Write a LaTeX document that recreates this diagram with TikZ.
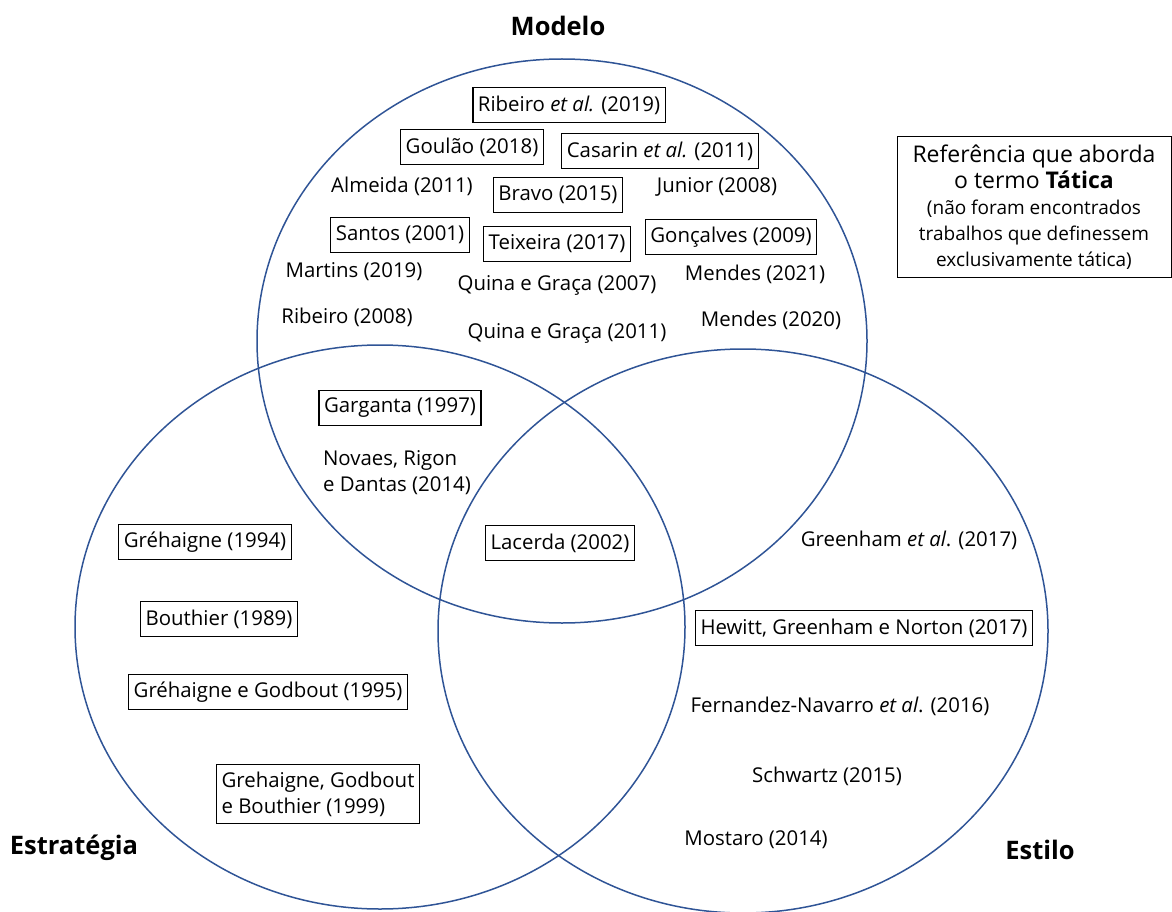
\documentclass[tikz,border=0pt]{standalone}
\usepackage{fontspec}
\setmainfont{Open Sans}
\usetikzlibrary{positioning, calc}
\usepackage{xcolor}
\definecolor{vennblue}{HTML}{2F5496}

\begin{document}
\begin{tikzpicture}[
      x=1pt, y=-1pt,
      every node/.style={font=\fontsize{20.4}{26}\selectfont},
      ref/.style={draw, line width=1.2pt, inner xsep=5pt, inner ysep=7.5pt, minimum height=35pt, align=left},
      plain/.style={inner sep=2pt, align=left},
      settitle/.style={font=\fontsize{25.5}{30}\selectfont\bfseries},
      setline/.style={draw=vennblue, line width=1.5pt},
    ]
    \path[use as bounding box] (0,0) rectangle (1172,912);

    % Sets
    \draw[setline] (562,341) ellipse [x radius=305pt, y radius=282pt];
    \draw[setline] (380,627) ellipse [x radius=305pt, y radius=282pt];
    \draw[setline] (743,631) ellipse [x radius=305pt, y radius=282pt];

    \node[settitle] (modelo) at (558,26) {Modelo};
    \node[settitle] (estrategia) at (74,848) {Estratégia};
    \node[settitle] (estilo) at (1040,850) {Estilo};

    % Modelo
    \node[ref] (ribeiro19) at (569,105) {Ribeiro \textit{et al.} (2019)};
    \node[ref] (goulao) at (472,147) {Goulão (2018)};
    \node[ref] (casarin) at (660,151) {Casarin \textit{et al.} (2011)};
    \node[plain] (almeida) at (402,186) {Almeida (2011)};
    \node[ref] (bravo) at (558,195) {Bravo (2015)};
    \node[plain] (junior) at (717,187) {Junior (2008)};
    \node[ref] (santos) at (400,235) {Santos (2001)};
    \node[ref] (teixeira) at (557,244) {Teixeira (2017)};
    \node[ref] (goncalves) at (731,237) {Gonçalves (2009)};
    \node[plain] (martins) at (354,272) {Martins (2019)};
    \node[plain] (quina07) at (557,285) {Quina e Graça (2007)};
    \node[plain] (mendes21) at (755,274) {Mendes (2021)};
    \node[plain] (ribeiro08) at (347,317) {Ribeiro (2008)};
    \node[plain] (quina11) at (567,333) {Quina e Graça (2011)};
    \node[plain] (mendes20) at (771,320) {Mendes (2020)};

    % Modelo + Estrategia
    \node[ref] (garganta) at (400,408) {Garganta (1997)};
    \node[plain] (novaes) at (397,473) {Novaes, Rigon\\e Dantas (2014)};

    % all three
    \node[ref] (lacerda) at (560,543) {Lacerda (2002)};

    % Estrategia
    \node[ref] (grehaigne94) at (205,542) {Gréhaigne (1994)};
    \node[ref] (bouthier) at (219,619) {Bouthier (1989)};
    \node[ref] (grehaigne95) at (268,692) {Gréhaigne e Godbout (1995)};
    \node[ref] (grehaigne99) at (318,794) {Grehaigne, Godbout\\e Bouthier (1999)};

    % Estilo
    \node[plain] (greenham) at (909,540) {Greenham \textit{et al}. (2017)};
    \node[ref] (hewitt) at (864,628) {Hewitt, Greenham e Norton (2017)};
    \node[plain] (fernandez) at (840,706) {Fernandez-Navarro \textit{et al}. (2016)};
    \node[plain] (schwartz) at (827,776) {Schwartz (2015)};
    \node[plain] (mostaro) at (756,840) {Mostaro (2014)};

    % Note
    \node[draw, line width=1pt, minimum width=274pt, minimum height=140pt, align=center, inner sep=2pt] (nota) at (1034,207)
      {\fontsize{23}{30}\selectfont Referência que aborda\\
       \fontsize{23}{30}\selectfont o termo \textbf{Tática}\\
       \fontsize{19}{23.5}\selectfont (não foram encontrados\\
       \fontsize{19}{23.5}\selectfont trabalhos que definessem\\
       \fontsize{19}{23.5}\selectfont exclusivamente tática)};
  \end{tikzpicture}
\end{document}
